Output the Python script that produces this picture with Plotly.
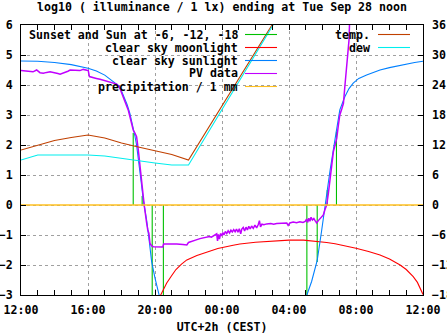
import pandas as pd
import plotly.graph_objects as go

# ---- data -------------------------------------------------------------
# times are local clock (UTC+2), listed in order from Mon 12:00 to Tue 12:00

sun_time = ["18:42", "19:14", "19:50", "20:30", "05:04", "05:41", "06:17", "06:50"]
sun_value = [2.4, 0.3, -3.0, -3.0, -3.0, -1.9, 0.5, 2.45]

moon_time = ["20:15", "20:20", "20:30", "20:42", "21:00", "21:15", "21:35", "21:54",
             "22:30", "23:06", "23:45", "00:40", "01:04", "02:00", "03:04", "04:00",
             "04:52", "05:40", "06:15", "06:45", "07:30", "08:00", "08:45", "09:26",
             "10:00", "10:38", "11:00", "11:25", "11:40", "11:55", "12:00"]
moon_value = [-3.10, -3.00, -2.80, -2.60, -2.35, -2.15, -1.97, -1.83,
              -1.68, -1.56, -1.45, -1.34, -1.30, -1.24, -1.19, -1.17,
              -1.17, -1.21, -1.25, -1.29, -1.37, -1.44, -1.55, -1.67,
              -1.80, -2.00, -2.15, -2.39, -2.58, -2.86, -2.98]

sky_time = ["12:00", "13:00", "14:00", "15:00", "16:00", "16:30", "17:00", "17:20",
            "17:40", "17:50", "18:00", "18:10", "18:20", "18:30", "18:36", "18:42",
            "18:48", "18:54", "19:00", "19:06", "19:12", "19:18", "19:24", "19:30",
            "19:39", "19:48", "20:00", "20:16", "20:20",
            "05:00", "05:04", "05:21", "05:41", "05:57", "06:09", "06:27", "06:45",
            "06:57", "07:02", "07:20", "07:35", "07:50", "08:10", "08:38", "09:00",
            "09:26", "10:00", "10:24", "11:00", "11:30", "12:00"]
sky_value = [4.80, 4.79, 4.75, 4.68, 4.56, 4.47, 4.33, 4.18,
             4.05, 3.97, 3.80, 3.58, 3.35, 3.05, 2.83, 2.55,
             2.30, 2.00, 1.60, 1.17, 0.65, 0.17, -0.17, -0.50,
             -1.17, -1.89, -2.44, -3.00, -3.20,
             -3.20, -3.00, -2.55, -1.85, -0.85, 0.00, 1.15, 2.20,
             2.85, 3.17, 3.61, 3.88, 4.06, 4.22, 4.33, 4.42,
             4.50, 4.58, 4.63, 4.70, 4.75, 4.79]

pv_time = ["12:00", "12:10", "12:21", "12:32", "12:43", "12:56", "13:02", "13:08",
           "13:20", "13:26", "13:32", "13:44", "13:52", "14:02", "14:12", "14:20",
           "14:30", "14:38", "14:48", "14:56", "15:05", "15:13", "15:22", "15:31",
           "15:43", "15:55", "16:01", "16:05", "16:19", "16:30", "16:43", "16:55",
           "17:07", "17:20", "17:31", "17:43", "17:52", "17:58", "18:05", "18:12",
           "18:18", "18:24", "18:30", "18:36", "18:42", "18:48", "18:54", "19:00",
           "19:06", "19:12", "19:18", "19:22", "19:26", "19:30", "19:34", "19:38",
           "19:42", "19:48", "19:54", "20:10", "20:28", "20:31", "21:10", "21:18",
           "21:40", "21:54", "22:00", "22:12", "22:25", "22:41", "22:55", "23:06",
           "23:15", "23:22", "23:30", "23:36", "23:41", "23:44", "23:47", "23:51",
           "23:55", "23:59", "00:03", "00:07", "00:12", "00:17", "00:22", "00:27",
           "00:32", "00:37", "00:42", "00:47", "00:52", "00:57", "01:02", "01:07",
           "01:11", "01:16", "01:21", "01:26", "01:31", "01:36", "01:41", "01:46",
           "01:52", "01:58", "02:04", "02:10", "02:14", "02:18", "02:23", "02:30",
           "02:40", "02:55", "03:05", "03:16", "03:30", "03:45", "03:52", "03:57",
           "04:03", "04:15", "04:27", "04:39", "04:50", "04:58", "05:03", "05:07",
           "05:11", "05:15", "05:19", "05:24", "05:29", "05:34", "05:39", "05:45",
           "05:51", "05:57", "06:03", "06:09", "06:15", "06:21", "06:27", "06:33",
           "06:39", "06:45", "06:51", "06:57", "07:02", "07:09", "07:15", "07:20",
           "07:25", "07:29", "07:35", "07:38", "08:00", "12:00"]
pv_value = [4.48, 4.47, 4.47, 4.45, 4.44, 4.50, 4.46, 4.41,
            4.39, 4.41, 4.42, 4.44, 4.43, 4.41, 4.38, 4.36,
            4.39, 4.41, 4.46, 4.50, 4.49, 4.48, 4.49, 4.48,
            4.52, 4.48, 4.48, 4.28, 4.26, 4.22, 4.19, 4.16,
            4.13, 4.10, 4.08, 4.03, 3.94, 3.80, 3.66, 3.50,
            3.33, 3.17, 2.95, 2.72, 2.50, 2.40, 2.28, 1.85,
            1.39, 0.85, 0.28, -0.05, -0.39, -0.60, -0.83, -0.94,
            -1.28, -1.36, -1.39, -1.40, -1.40, -1.30, -1.29, -1.30,
            -1.32, -1.33, -1.25, -1.22, -1.17, -1.12, -1.10, -1.08,
            -1.05, -1.07, -1.02, -1.00, -0.96, -1.20, -0.98, -1.14,
            -0.95, -1.03, -0.92, -1.00, -0.88, -0.95, -0.86, -0.93,
            -0.84, -0.90, -0.82, -0.89, -0.80, -0.91, -0.79, -0.96,
            -0.80, -0.75, -0.87, -0.74, -0.83, -0.71, -0.80, -0.70,
            -0.78, -0.67, -0.76, -0.65, -0.52, -0.73, -0.64, -0.66,
            -0.63, -0.62, -0.64, -0.62, -0.61, -0.62, -0.60, -0.68,
            -0.60, -0.57, -0.59, -0.56, -0.58, -0.55, -0.47, -0.58,
            -0.44, -0.54, -0.41, -0.50, -0.45, -0.53, -0.60, -0.52,
            -0.46, -0.40, -0.33, -0.15, 0.00, 0.39, 0.89, 1.33,
            1.78, 2.00, 2.22, 2.67, 3.00, 3.20, 3.39, 3.94,
            4.40, 4.83, 5.50, 6.40, 6.90, 6.90]

rain_time = ["12:00", "18:00", "00:00", "06:00", "12:00"]
rain_value = [0, 0, 0, 0, 0]

# temperature and dew point in degrees C (right axis)
temp_time = ["12:00", "13:00", "14:00", "15:00", "16:00", "17:00", "18:00",
             "19:00", "20:00", "21:00", "22:00", "03:30"]
temp_value = [11.0, 12.0, 12.9, 13.5, 14.0, 13.4, 12.4, 11.6, 10.9, 10.1, 9.0, 38.8]
dew_value = [9.0, 10.0, 10.0, 10.0, 10.0, 9.8, 9.3, 8.9, 8.4, 8.0, 8.0, 38.5]

x_ticks = ["12:00", "16:00", "20:00", "00:00", "04:00", "08:00", "12:00"]

# ---- helpers ------------------------------------------------------------
DAY0 = pd.Timestamp("2021-09-27")


def stamps(times):
    """Turn an ordered list of HH:MM strings into timestamps, rolling past midnight."""
    out, day, prev = [], 0, None
    for t in times:
        h, m = map(int, t.split(":"))
        mins = h * 60 + m
        if prev is not None and mins < prev:
            day += 1
        prev = mins
        out.append(DAY0 + pd.Timedelta(days=day, minutes=mins))
    return out


t_start = DAY0 + pd.Timedelta(hours=12)
t_end = t_start + pd.Timedelta(hours=24)

GREEN = "#00c000"
RED = "#ff0000"
BLUE = "#0080ff"
PURPLE = "#c000ff"
YELLOW = "#ffc020"
BROWN = "#c04000"
CYAN = "#00eeee"

FONT = "DejaVu Sans Mono"
FS = 11.6
LW = 1.1

fig = go.Figure()

# sunset / twilight markers drawn as impulses from zero
imp_x, imp_y = [], []
for ts, v in zip(stamps(sun_time), sun_value):
    imp_x += [ts, ts, None]
    imp_y += [0, v, None]
fig.add_trace(go.Scatter(x=imp_x, y=imp_y, mode="lines",
                         line=dict(color=GREEN, width=LW), connectgaps=False))

fig.add_trace(go.Scatter(x=stamps(moon_time), y=moon_value, mode="lines",
                         line=dict(color=RED, width=LW)))
fig.add_trace(go.Scatter(x=stamps(sky_time), y=sky_value, mode="lines",
                         line=dict(color=BLUE, width=LW)))
fig.add_trace(go.Scatter(x=stamps(pv_time), y=pv_value, mode="lines",
                         line=dict(color=PURPLE, width=1.5)))
fig.add_trace(go.Scatter(x=stamps(rain_time), y=rain_value, mode="lines",
                         line=dict(color=YELLOW, width=1.4)))
fig.add_trace(go.Scatter(x=stamps(temp_time), y=temp_value, mode="lines", yaxis="y2",
                         line=dict(color=BROWN, width=LW)))
fig.add_trace(go.Scatter(x=stamps(temp_time), y=dew_value, mode="lines", yaxis="y2",
                         line=dict(color=CYAN, width=LW)))

# ---- geometry of the plot frame (pixels) --------------------------------
W, H = 447, 335
ML, MR, MT, MB = 21, 24, 25, 40
PW, PH = W - ML - MR, H - MT - MB


def px(xp):
    return (xp - ML) / PW


def py(yp):
    return (H - MB - yp) / PH


# ---- key --------------------------------------------------------------
key_left = ["Sunset and Sun at -6, -12, -18", "clear sky moonlight",
            "clear sky sunlight", "PV data", "precipitation / 1 mm"]
key_left_col = [GREEN, RED, BLUE, PURPLE, YELLOW]
key_right = ["temp.", "dew"]
key_right_col = [BROWN, CYAN]

shapes = [
    # blank areas behind the keys hide the grid there
    dict(type="rect", xref="paper", yref="paper", x0=0, x1=px(282), y0=py(92), y1=1,
         fillcolor="white", line=dict(width=0), layer="between"),
    dict(type="rect", xref="paper", yref="paper", x0=px(300), x1=1, y0=py(53), y1=1,
         fillcolor="white", line=dict(width=0), layer="between"),
]
annotations = []
ROW0, ROWH = 34.5, 13
for i, (lab, col) in enumerate(zip(key_left, key_left_col)):
    yc = ROW0 + i * ROWH
    annotations.append(dict(text=lab, xref="paper", yref="paper", x=px(239), y=py(yc),
                            xanchor="right", yanchor="middle", showarrow=False,
                            font=dict(family=FONT, size=FS, color="black", weight="bold"),
                            borderpad=0))
    shapes.append(dict(type="line", xref="paper", yref="paper", x0=px(245), x1=px(277),
                       y0=py(yc), y1=py(yc), line=dict(color=col, width=LW), layer="above"))
for i, (lab, col) in enumerate(zip(key_right, key_right_col)):
    yc = ROW0 + i * ROWH
    annotations.append(dict(text=lab, xref="paper", yref="paper", x=px(371), y=py(yc),
                            xanchor="right", yanchor="middle", showarrow=False,
                            font=dict(family=FONT, size=FS, color="black", weight="bold"),
                            borderpad=0))
    shapes.append(dict(type="line", xref="paper", yref="paper", x0=px(378), x1=px(410),
                       y0=py(yc), y1=py(yc), line=dict(color=col, width=LW), layer="above"))

tick_vals = stamps(x_ticks)

fig.update_layout(
    width=W, height=H, autosize=False,
    margin=dict(l=ML, r=MR, t=MT, b=MB, pad=0),
    paper_bgcolor="white", plot_bgcolor="white",
    showlegend=False,
    font=dict(family=FONT, size=FS, color="black", weight="bold"),
    title=dict(text="log10 ( illuminance / 1 lx) ending at Tue Sep 28 noon",
               x=px(222) * PW / W + ML / W, xanchor="center",
               y=1 - 6.5 / H, yanchor="middle", yref="container",
               font=dict(family=FONT, size=FS, color="black", weight="bold")),
    xaxis=dict(
        type="date", range=[t_start, t_end],
        tickmode="array", tickvals=tick_vals, ticktext=x_ticks,
        ticks="inside", ticklen=5, tickcolor="black", tickwidth=1,
        showline=True, linecolor="black", linewidth=1, mirror="allticks",
        showgrid=True, gridcolor="#a0a0a0", griddash="3px,3px", gridwidth=1,
        zeroline=False, ticklabelstandoff=4,
        minor=dict(tickmode="array",
                   tickvals=[t_start + pd.Timedelta(hours=h) for h in range(25)],
                   ticks="inside", ticklen=3, tickcolor="black", showgrid=False),
        title=dict(text="UTC+2h (CEST)", standoff=6,
                   font=dict(family=FONT, size=FS, color="black", weight="bold")),
        automargin=False,
    ),
    yaxis=dict(
        range=[-3, 6], dtick=1, tick0=0,
        ticks="inside", ticklen=5, tickcolor="black",
        showline=True, linecolor="black", linewidth=1, mirror=True,
        showgrid=True, gridcolor="#a0a0a0", griddash="3px,3px", gridwidth=1,
        zeroline=False, ticklabelstandoff=5, automargin=False,
    ),
    yaxis2=dict(
        range=[-18, 36], dtick=6, tick0=0, overlaying="y", side="right",
        ticks="inside", ticklen=5, tickcolor="black",
        showline=False, showgrid=False, zeroline=False,
        ticklabelstandoff=8, automargin=False,
    ),
    shapes=shapes,
    annotations=annotations,
)

fig.write_html("out.html")
